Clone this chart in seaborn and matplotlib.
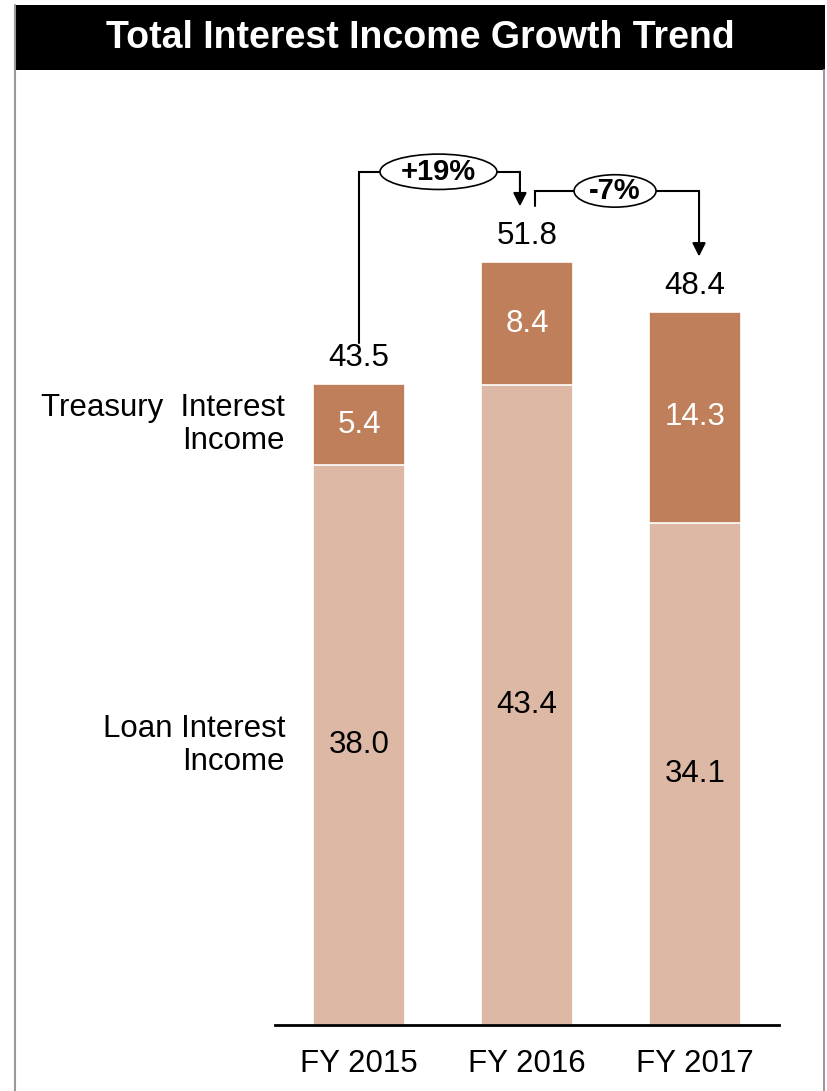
import matplotlib
matplotlib.use("Agg")
import matplotlib.pyplot as plt
import seaborn as sns
import pandas as pd
from matplotlib.patches import Ellipse, Rectangle
from matplotlib.lines import Line2D

# ---- data ----
years = ["FY 2015", "FY 2016", "FY 2017"]
loan_income = [38.0, 43.4, 34.1]
treasury_income = [5.4, 8.4, 14.3]
total_income = [43.5, 51.8, 48.4]
growth_labels = ["+19%", "-7%"]
series_labels = ["Treasury  Interest\nIncome", "Loan Interest\nIncome"]
title = "Total Interest Income Growth Trend"

sns.set_theme(style="white")
plt.rcParams["font.family"] = ["Liberation Sans", "DejaVu Sans"]
plt.rcParams["text.color"] = "black"
plt.rcParams["xtick.color"] = "black"

W, H = 827, 1091
fig = plt.figure(figsize=(W / 100, H / 100), dpi=100)
fig.patch.set_facecolor("white")

# axes: baseline at px 1025, from x px 275 to 779
px_per_unit = 14.736
ax_h_px = 945
ax = fig.add_axes([275 / W, 1 - 1025 / H, 504 / W, ax_h_px / H])
ax.set_facecolor("none")

df = pd.DataFrame({"year": years, "loan": loan_income,
                   "treasury": treasury_income, "total": total_income})
dark = "#BF7F5A"
light = "#DDB9A5"
bw = 0.55

sns.barplot(data=df, x="year", y="total", color=dark, saturation=1, width=bw,
            edgecolor="white", linewidth=1.2, ax=ax)
sns.barplot(data=df, x="year", y="loan", color=light, saturation=1, width=bw,
            edgecolor="white", linewidth=1.2, ax=ax)

ax.set_xlim(-0.5, 2.5)
ax.set_ylim(0, ax_h_px / px_per_unit)
ax.set_xlabel("")
ax.set_ylabel("")
ax.set_yticks([])
sns.despine(ax=ax, left=True)
ax.spines["bottom"].set_color("black")
ax.spines["bottom"].set_linewidth(2)
ax.tick_params(axis="x", labelsize=22.5, length=0, pad=17, colors="black")

fs = 22.5
# segment labels
for i in range(len(years)):
    ax.text(i, loan_income[i] / 2, f"{loan_income[i]:.1f}", ha="center", va="center",
            fontsize=fs, color="black")
    ax.text(i, loan_income[i] + (total_income[i] - loan_income[i]) / 2,
            f"{treasury_income[i]:.1f}", ha="center", va="center", fontsize=fs, color="white")
    ax.text(i, total_income[i] + 1.75, f"{total_income[i]:.1f}", ha="center", va="center",
            fontsize=fs, color="black")

# series labels at left of first bar
lx = -bw / 2 - 0.165
ax.text(lx, loan_income[0] + (total_income[0] - loan_income[0]) / 2, series_labels[0],
        ha="right", va="center", fontsize=fs, linespacing=1.13, color="black")
ax.text(lx, loan_income[0] / 2, series_labels[1], ha="right", va="center",
        fontsize=fs, linespacing=1.13, color="black")

# growth brackets
lw = 1.5
arrow_kw = dict(arrowstyle="-|>", color="black", lw=lw, mutation_scale=20,
                shrinkA=0, shrinkB=0)
# bracket 1
top1 = 57.9
xa1 = 1 - 0.042
ax.plot([0, 0, xa1], [total_income[0] + 2.8, top1, top1], color="black", lw=lw,
        clip_on=False, solid_joinstyle="miter")
ax.annotate("", xy=(xa1, total_income[1] + 3.75), xytext=(xa1, top1), arrowprops=arrow_kw,
            annotation_clip=False)
ax.add_patch(Ellipse((0.473, top1), 0.696, 2.4, facecolor="white", edgecolor="black",
                     lw=1.2, zorder=5, clip_on=False))
ax.text(0.473, top1, growth_labels[0], ha="center", va="center", fontsize=21,
        fontweight="bold", zorder=6, color="black")
# bracket 2
top2 = 56.6
xs2 = 1 + 0.048
xa2 = 2 + 0.024
ax.plot([xs2, xs2, xa2], [total_income[1] + 3.75, top2, top2], color="black", lw=lw,
        clip_on=False, solid_joinstyle="miter")
ax.annotate("", xy=(xa2, total_income[2] + 3.75), xytext=(xa2, top2), arrowprops=arrow_kw,
            annotation_clip=False)
ax.add_patch(Ellipse((1.524, top2), 0.488, 2.2, facecolor="white", edgecolor="black",
                     lw=1.2, zorder=5, clip_on=False))
ax.text(1.524, top2, growth_labels[1], ha="center", va="center", fontsize=21,
        fontweight="bold", zorder=6, color="black")

# frame and title bar
fig.add_artist(Rectangle((15 / W, 1 - 70 / H), 810 / W, 65 / H, transform=fig.transFigure,
                         facecolor="black", edgecolor="none"))
fig.add_artist(Line2D([14.5 / W, 14.5 / W], [0, 1 - 5 / H], transform=fig.transFigure,
                      color="#9A9A9A", lw=1.5))
fig.add_artist(Line2D([824 / W, 824 / W], [0, 1 - 70 / H], transform=fig.transFigure,
                      color="#9A9A9A", lw=1.5))
fig.text(420 / W, 1 - 38 / H, title, color="white", fontsize=27, fontweight="bold",
         ha="center", va="center")

fig.savefig("out.png", dpi=100)
